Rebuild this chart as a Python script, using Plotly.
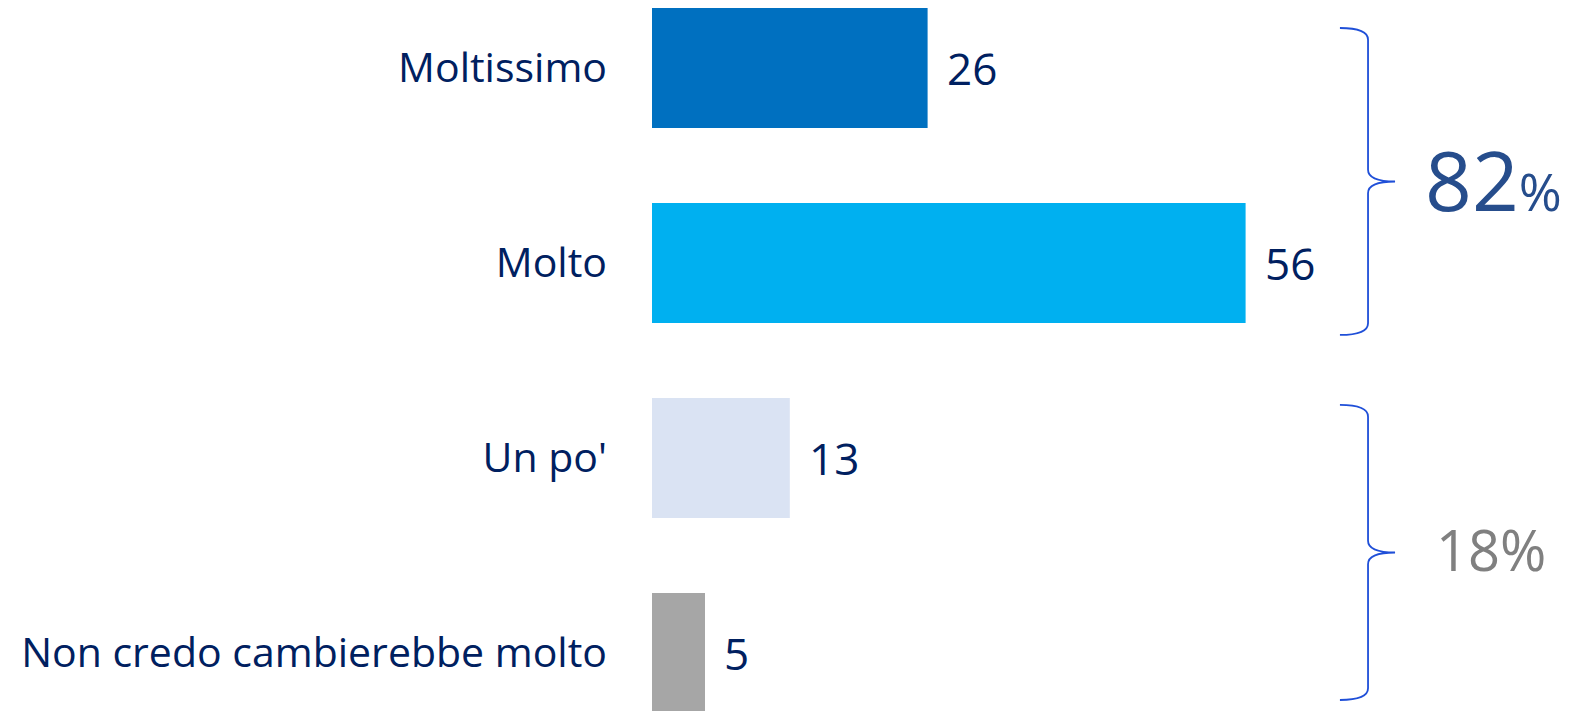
import plotly.graph_objects as go

categories = ["Moltissimo", "Molto", "Un po'", "Non credo cambierebbe molto"]
values = [26, 56, 13, 5]
bar_colors = ["#0070C0", "#00B0F0", "#DAE3F3", "#A6A6A6"]
group_labels = ["82", "18%"]
group_spans = [(-0.205, 1.369), (1.728, 3.241)]

FONT = "Open Sans"
NAVY = "#002060"

OFF = 8          # page offset of the plot div
X0 = 652 - OFF   # pixel of x=0 inside the div
PXU = 10.6       # pixels per unit
Y0 = 68 - OFF    # pixel of first category centre inside the div
BAND = 195

ypos = list(range(len(categories)))

fig = go.Figure()
fig.add_trace(go.Bar(
    x=values, y=ypos, orientation="h",
    marker=dict(color=bar_colors, line=dict(width=0)),
    width=0.615, hoverinfo="skip",
))

annotations = []
for v, y in zip(values, ypos):
    annotations.append(dict(
        x=v, y=y, xref="x", yref="y", text=str(v), showarrow=False,
        xanchor="left", yanchor="middle", xshift=17,
        font=dict(family=FONT, size=44, color=NAVY),
    ))

# brackets
x_tip, x_line, x_point = 64.9, 67.55, 70.1
shapes = []
for (y0, y1) in group_spans:
    ym = (y0 + y1) / 2
    c = 0.06
    path = (f"M {x_tip},{y0} Q {x_line},{y0} {x_line},{y0 + c} "
            f"L {x_line},{ym - c} Q {x_line},{ym} {x_point},{ym} "
            f"Q {x_line},{ym} {x_line},{ym + c} "
            f"L {x_line},{y1 - c} Q {x_line},{y1} {x_tip},{y1}")
    shapes.append(dict(type="path", path=path, xref="x", yref="y",
                       line=dict(color="#1F4FD8", width=1.8)))

ym0 = sum(group_spans[0]) / 2
ym1 = sum(group_spans[1]) / 2
annotations.append(dict(
    x=(1423 - 652) / PXU, y=ym0, xref="x", yref="y", showarrow=False,
    text=group_labels[0] + "<span style='font-size:52px'>%</span>",
    xanchor="left", yanchor="middle", yshift=2,
    font=dict(family=FONT, size=82, color="#264D8C", weight=500),
))
annotations.append(dict(
    x=(1434 - 652) / PXU, y=ym1, xref="x", yref="y", showarrow=False,
    text=group_labels[1], xanchor="left", yanchor="middle", yshift=3,
    font=dict(family=FONT, size=56, color="#808080"),
))

fig.update_layout(
    width=1570, height=711,
    margin=dict(l=X0, r=0, t=0, b=0),
    paper_bgcolor="white", plot_bgcolor="white",
    showlegend=False,
    shapes=shapes, annotations=annotations,
    xaxis=dict(range=[0, (1570 - X0) / PXU], visible=False, fixedrange=True),
    yaxis=dict(
        range=[3 + (711 - (Y0 + 3 * BAND)) / BAND, -Y0 / BAND],
        tickvals=ypos, ticktext=categories,
        showgrid=False, zeroline=False, showline=False,
        ticks="", ticklabelstandoff=44,
        tickfont=dict(family=FONT, size=41, color=NAVY),
        fixedrange=True,
    ),
)

fig.write_html("out.html")
